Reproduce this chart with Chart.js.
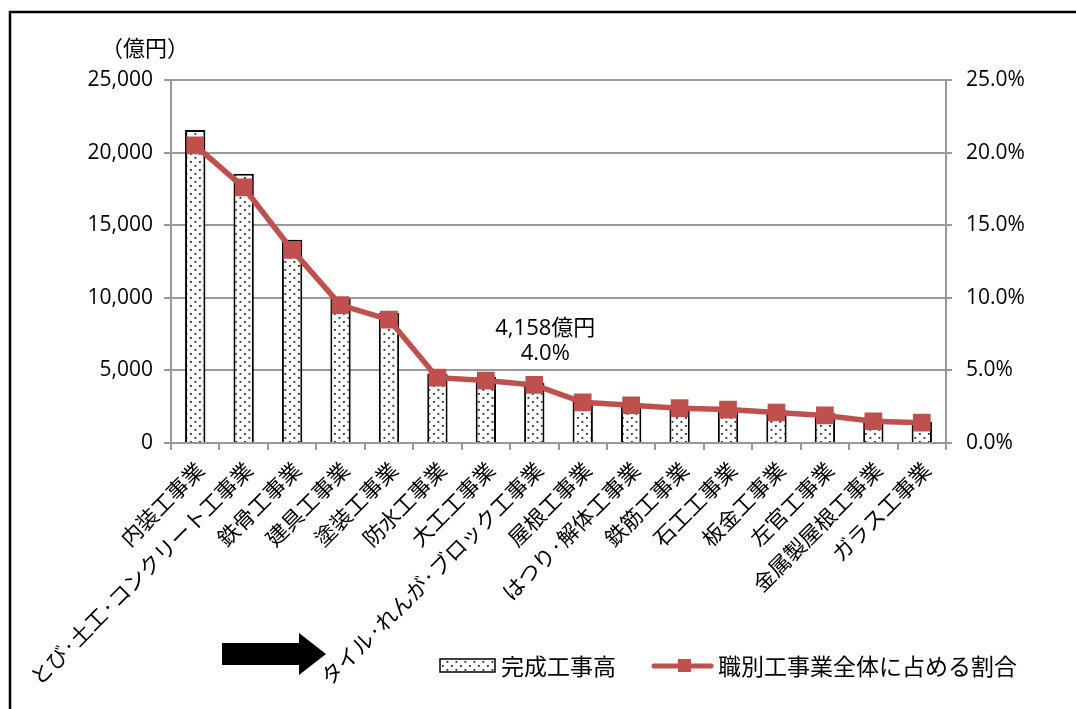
<!DOCTYPE html>
<html lang="ja">
<head>
<meta charset="utf-8">
<script src="https://cdn.jsdelivr.net/npm/chart.js@4.4.1/dist/chart.umd.min.js"></script>
<style>
  html, body { margin: 0; padding: 0; background: #fff; }
  canvas { display: block; }
</style>
</head>
<body>
<canvas id="chart" width="1076" height="709"></canvas>
<script>
// 職別の完成工事高（億円）と、職別工事業全体に占める割合（%）
const categories = [
  '内装工事業', 'とび·土工·コンクリート工事業', '鉄骨工事業', '建具工事業',
  '塗装工事業', '防水工事業', '大工工事業', 'タイル·れんが·ブロック工事業',
  '屋根工事業', 'はつり·解体工事業', '鉄筋工事業', '石工工事業',
  '板金工事業', '左官工事業', '金属製屋根工事業', 'ガラス工事業'
];
const completedWork = [21550, 18550, 14000, 9950, 8950, 4750, 4550, 4158,
                       2950, 2700, 2550, 2400, 2250, 2050, 1600, 1450];
const shareOfTotal = [20.5, 17.6, 13.3, 9.5, 8.5, 4.5, 4.3, 4.0,
                      2.8, 2.6, 2.4, 2.3, 2.1, 1.9, 1.5, 1.4];
const amountTicks = [0, 5000, 10000, 15000, 20000, 25000];
const shareTicks = [0, 5, 10, 15, 20, 25];
const highlightIndex = 7;

const seriesNames = ['完成工事高', '職別工事業全体に占める割合'];
const unitLabel = '（億円）';

const RED = '#C0504D';
const GRID = '#999999';
const JP = '"Noto Sans CJK JP", sans-serif';
const NUM = '"Open Sans", "Noto Sans CJK JP", sans-serif';

function withComma(n) {
  return String(n).replace(/\B(?=(\d{3})+(?!\d))/g, ',');
}

const canvas = document.getElementById('chart');
const ctx = canvas.getContext('2d');

// 白地に点描のハッチング
function dotPattern() {
  const tile = document.createElement('canvas');
  tile.width = 9; tile.height = 8;
  const g = tile.getContext('2d');
  g.fillStyle = '#ffffff';
  g.fillRect(0, 0, 9, 8);
  g.fillStyle = '#2a2a2a';
  g.fillRect(1, 1, 1.8, 1.8);
  g.fillRect(5.5, 5, 1.8, 1.8);
  return ctx.createPattern(tile, 'repeat');
}
const dots = dotPattern();

const decorations = {
  id: 'decorations',
  beforeDraw(chart) {
    const c = chart.ctx;
    c.save();
    c.fillStyle = '#ffffff';
    c.fillRect(0, 0, chart.width, chart.height);
    c.restore();
  },
  afterDraw(chart) {
    const c = chart.ctx;
    const xs = chart.scales.x;
    const ys = chart.scales.y1;
    c.save();

    // 外枠
    c.strokeStyle = '#000';
    c.lineWidth = 2.5;
    c.beginPath();
    c.moveTo(10, chart.height + 2);
    c.lineTo(10, 12);
    c.lineTo(chart.width + 2, 12);
    c.stroke();

    // 単位
    c.fillStyle = '#000';
    c.font = '22px ' + JP;
    c.textAlign = 'center';
    c.textBaseline = 'middle';
    c.fillText(unitLabel, 145, 48);

    // 注記
    const px = xs.getPixelForValue(highlightIndex) + 11;
    const py = ys.getPixelForValue(shareOfTotal[highlightIndex]);
    c.font = '22px ' + NUM;
    c.fillText(withComma(completedWork[highlightIndex]) + '億円', px, py - 56);
    c.fillText(shareOfTotal[highlightIndex].toFixed(1) + '%', px, py - 31);

    // 矢印
    c.fillStyle = '#000';
    c.beginPath();
    c.moveTo(222, 643);
    c.lineTo(299, 643);
    c.lineTo(299, 633);
    c.lineTo(326, 654);
    c.lineTo(299, 675);
    c.lineTo(299, 665);
    c.lineTo(222, 665);
    c.closePath();
    c.fill();

    // 凡例
    const ly = 666;
    c.fillStyle = dots;
    c.fillRect(440, 659, 55, 13);
    c.strokeStyle = '#000';
    c.lineWidth = 1.5;
    c.strokeRect(440, 659, 55, 13);
    c.fillStyle = '#000';
    c.font = '23px ' + JP;
    c.textAlign = 'left';
    c.textBaseline = 'middle';
    c.fillText(seriesNames[0], 501, ly);

    c.strokeStyle = RED;
    c.lineWidth = 5;
    c.lineCap = 'round';
    c.beginPath();
    c.moveTo(654, ly);
    c.lineTo(711, ly);
    c.stroke();
    c.fillStyle = RED;
    c.fillRect(678, ly - 7, 13, 13);
    c.fillStyle = '#000';
    c.fillText(seriesNames[1], 718, ly);

    c.restore();
  }
};

new Chart(ctx, {
  data: {
    labels: categories,
    datasets: [
      {
        type: 'line',
        label: seriesNames[1],
        data: shareOfTotal,
        yAxisID: 'y1',
        order: 0,
        borderColor: RED,
        backgroundColor: RED,
        borderWidth: 5.5,
        pointStyle: 'rect',
        pointRadius: 12.5,
        pointBorderWidth: 0,
        pointBackgroundColor: RED,
        tension: 0
      },
      {
        type: 'bar',
        label: seriesNames[0],
        data: completedWork,
        yAxisID: 'y',
        order: 1,
        backgroundColor: dots,
        borderColor: '#000',
        borderWidth: 2,
        categoryPercentage: 1,
        barPercentage: 0.42
      }
    ]
  },
  options: {
    responsive: false,
    animation: false,
    layout: { padding: { top: 80, left: 0, right: 0, bottom: 0 } },
    plugins: {
      legend: { display: false },
      tooltip: { enabled: false }
    },
    scales: {
      x: {
        offset: true,
        grid: {
          offset: true,
          drawOnChartArea: false,
          drawTicks: true,
          tickLength: 7,
          color: GRID,
          lineWidth: 2
        },
        border: { color: GRID, width: 2 },
        ticks: {
          autoSkip: false,
          minRotation: 45,
          maxRotation: 45,
          padding: 7,
          labelOffset: 5,
          color: '#000',
          font: { family: JP, size: 21.5 }
        },
        afterFit(scale) { scale.height = 266; }
      },
      y: {
        position: 'left',
        min: amountTicks[0],
        max: amountTicks[amountTicks.length - 1],
        afterBuildTicks(scale) { scale.ticks = amountTicks.map(v => ({ value: v })); },
        grid: { color: GRID, lineWidth: 2, tickLength: 7 },
        border: { color: GRID, width: 2 },
        ticks: {
          padding: 11,
          color: '#000',
          font: { family: NUM, size: 21 },
          callback: v => withComma(v)
        },
        afterFit(scale) { scale.width = 171; }
      },
      y1: {
        position: 'right',
        min: shareTicks[0],
        max: shareTicks[shareTicks.length - 1],
        afterBuildTicks(scale) { scale.ticks = shareTicks.map(v => ({ value: v })); },
        grid: { drawOnChartArea: false, color: GRID, lineWidth: 2, tickLength: 6 },
        border: { color: GRID, width: 2 },
        ticks: {
          padding: 14,
          color: '#000',
          font: { family: NUM, size: 21 },
          callback: v => v.toFixed(1) + '%'
        },
        afterFit(scale) { scale.width = 130; }
      }
    }
  },
  plugins: [decorations]
});
</script>
</body>
</html>
